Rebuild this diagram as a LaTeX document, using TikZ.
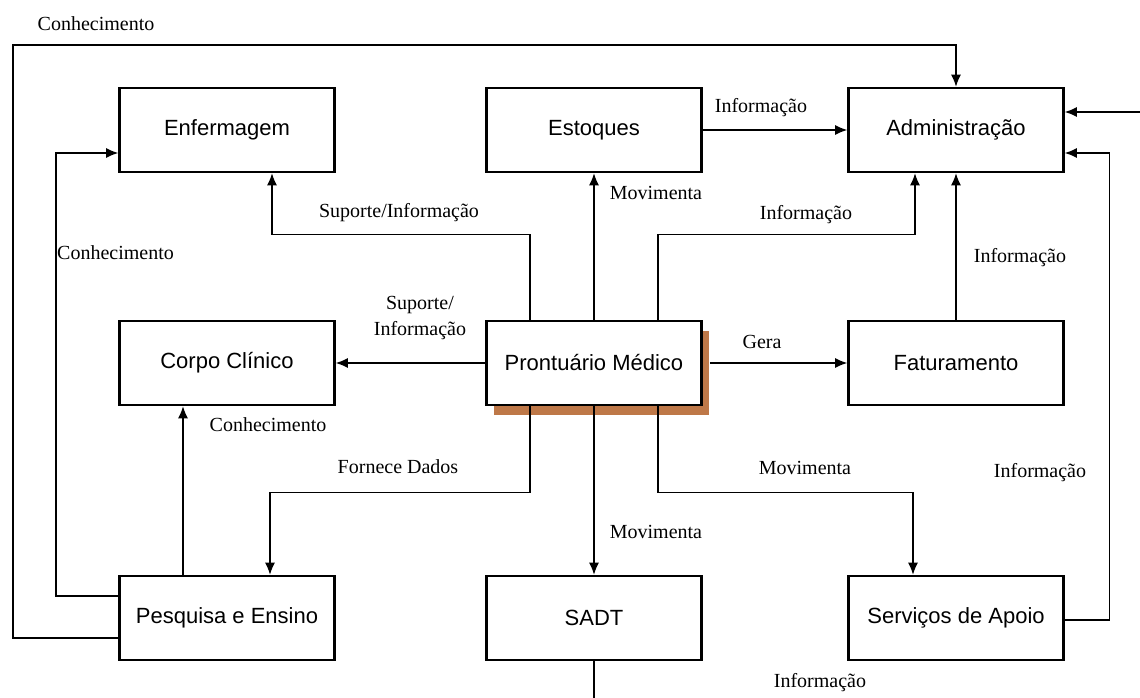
\documentclass[tikz,border=0pt]{standalone}
\usepackage{fontspec}
\setmainfont{Liberation Serif}
\newfontfamily\boxfont{Liberation Sans}
\usetikzlibrary{arrows.meta,shadows}
\definecolor{shadowcol}{RGB}{190,120,72}
\tikzset{
  box/.style={draw, line width=2.6pt, fill=white, minimum width=215pt, minimum height=84pt,
    inner sep=0pt, font=\boxfont\fontsize{22}{26}\selectfont},
  conn/.style={line width=1.3pt},
  arr/.style={conn, -{Latex[length=12pt,width=10pt]}},
  lbl/.style={font=\fontsize{20}{26}\selectfont, inner sep=0pt, align=center}
}
\begin{document}
\begin{tikzpicture}[x=1pt,y=-1pt]
\useasboundingbox (0,0) rectangle (1140,698);
% boxes
\node[box] (enf) at (227,130) {Enfermagem};
\node[box] (est) at (594,130) {Estoques};
\node[box] (adm) at (956,130) {Administração};
\node[box] (cor) at (227,363) {Corpo Clínico};
\node[box, general shadow={fill=shadowcol, shadow xshift=7pt, shadow yshift=-10pt}] (pro) at (594,363) {Prontuário Médico};
\node[box] (fat) at (956,363) {Faturamento};
\node[box] (pes) at (227,618) {Pesquisa e Ensino};
\node[box] (sad) at (594,618) {SADT};
\node[box] (ser) at (956,618) {Serviços de Apoio};
\coordinate (ext) at (1140,112);
\coordinate (sadend) at (594,698);
% connectors
\draw[arr] ([yshift=-20pt]pes.west) -| (13,45) -| (adm.north);
\draw[arr] ([yshift=22pt]pes.west) -| (56,153) -- ([yshift=-23pt]enf.west);
\draw[arr] ([xshift=-44pt]pes.north) -- ([xshift=-44pt]cor.south);
\draw[arr] ([xshift=-64pt]pro.north) -- ++(0,-85) -| ([xshift=45pt]enf.south);
\draw[arr] (pro.north) -- (est.south);
\draw[arr] ([xshift=64pt]pro.north) -- ++(0,-85) -| ([xshift=-41pt]adm.south);
\draw[arr] (est.east) -- (adm.west);
\draw[arr] (ext) -- ([yshift=18pt]adm.east);
\draw[arr] ([yshift=-2pt]ser.east) -- ++(45,0) |- ([yshift=-23pt]adm.east);
\draw[arr] (fat.north) -- (adm.south);
\draw[arr] (pro.west) -- (cor.east);
\draw[arr] ([xshift=7pt]pro.east) -- (fat.west);
\draw[arr] ([xshift=-64pt]pro.south) -- ++(0,86) -| ([xshift=43pt]pes.north);
\draw[arr] (pro.south) -- (sad.north);
\draw[arr] ([xshift=64pt]pro.south) -- ++(0,86) -| ([xshift=-43pt]ser.north);
\draw[conn] (sad.south) -- (sadend);
% labels
\node[lbl] (l1) at (96,24) {Conhecimento};
\node[lbl] (l2) at (761,108) {Informação};
\node[lbl] (l3) at (399,213) {Suporte/Informação};
\node[lbl] (l4) at (656,193) {Movimenta};
\node[lbl] (l5) at (806,215) {Informação};
\node[lbl] (l6) at (1020,258) {Informação};
\node[lbl, anchor=west] (l7) at (57,253) {Conhecimento};
\node[lbl] (l8) at (420,318) {Suporte/\\Informação};
\node[lbl] (l9) at (762,342) {Gera};
\node[lbl] (l10) at (268,425) {Conhecimento};
\node[lbl] (l11) at (398,467) {Fornece Dados};
\node[lbl] (l12) at (805,468) {Movimenta};
\node[lbl] (l13) at (1040,473) {Informação};
\node[lbl] (l14) at (656,532) {Movimenta};
\node[lbl] (l15) at (820,683) {Informação};
\end{tikzpicture}
\end{document}
